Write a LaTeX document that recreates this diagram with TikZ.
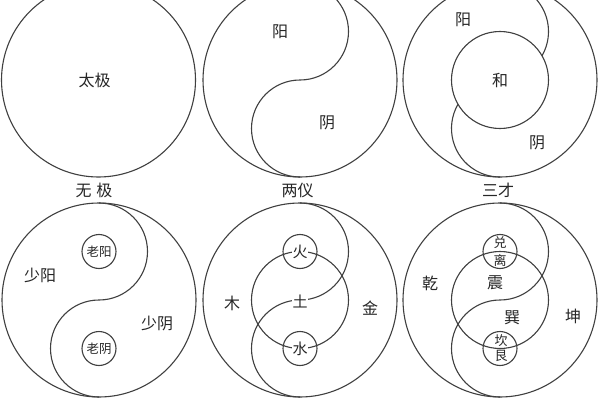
\documentclass[tikz,border=0pt]{standalone}
\usepackage{fontspec}
\setmainfont{Noto Sans CJK SC}
\definecolor{lc}{HTML}{404040}
\definecolor{tc}{HTML}{262626}
\begin{document}
\begin{tikzpicture}[x=1pt,y=1pt,
  ln/.style={draw=lc,line width=1.1pt},
  big/.style={font=\fontsize{16}{16}\selectfont,text=tc,inner sep=0.6pt},
  mid/.style={font=\fontsize{15}{15}\selectfont,text=tc,inner sep=0.6pt,fill=white},
  sml/.style={font=\fontsize{12.5}{13}\selectfont,text=tc,inner sep=0.3pt},
  tiny/.style={font=\fontsize{13}{13}\selectfont,text=tc,inner sep=0pt},
  captxt/.style={font=\fontsize{16}{16}\selectfont,text=tc,inner sep=0.5pt}]
\useasboundingbox (0,0) rectangle (600,400);
\fill[white] (0,0) rectangle (600,400);
\clip (0,0) rectangle (600,400);
% ---------- 1: taiji ----------
\begin{scope}[shift={(98.5,320)}]
  \draw[ln] (0,0) circle[radius=97];
  \node[big] (taiji) at (-4,0) {太极};
\end{scope}
% ---------- 2: liangyi ----------
\begin{scope}[shift={(300,320)}]
  \draw[ln] (0,0) circle[radius=97];
  \draw[ln] (0,97) arc[start angle=90,end angle=-90,radius=48.5]
                   arc[start angle=90,end angle=270,radius=48.5];
  \node[big] (yang2) at (-20,48) {阳};
  \node[big] (yin2) at (27,-43) {阴};
\end{scope}
% ---------- 3: sancai ----------
\begin{scope}[shift={(500,320)}]
  \draw[ln] (0,0) circle[radius=97];
  \draw[ln] (0,0) circle[radius=48.5];
  \draw[ln] (0,97) arc[start angle=90,end angle=-30,radius=48.5];
  \draw[ln] (-42.002,-24.25) arc[start angle=150,end angle=270,radius=48.5];
  \node[big] (yang3) at (-37,60) {阳};
  \node[big] (he3) at (0,0) {和};
  \node[big] (yin3) at (37,-63) {阴};
\end{scope}
% captions
\node[captxt] (wuji) at (94,210) {无\hspace{5pt}极};
\node[captxt] (liangyi) at (297.5,210) {两仪};
\node[captxt] (sancai) at (498,210) {三才};
% ---------- 4: sixiang ----------
\begin{scope}[shift={(99,100)}]
  \draw[ln] (0,0) circle[radius=97];
  \draw[ln] (0,97) arc[start angle=90,end angle=-90,radius=48.5]
                   arc[start angle=90,end angle=270,radius=48.5];
  \draw[ln] (0,48.5) circle[radius=17];
  \draw[ln] (0,-48.5) circle[radius=17];
  \node[sml] (laoyang) at (0,48.5) {老阳};
  \node[sml] (laoyin) at (0,-48.5) {老阴};
  \node[big] (shaoyang) at (-59,25) {少阳};
  \node[big] (shaoyin) at (58,-23) {少阴};
\end{scope}
% ---------- 5: wuxing ----------
\begin{scope}[shift={(300,100)}]
  \draw[ln] (0,0) circle[radius=97];
  \draw[ln] (0,0) circle[radius=48.5];
  \draw[ln] (0,97) arc[start angle=90,end angle=-90,radius=48.5]
                   arc[start angle=90,end angle=270,radius=48.5];
  \draw[ln] (0,48.5) circle[radius=17];
  \draw[ln] (0,-48.5) circle[radius=17];
  \node[mid] (huo) at (0,48.5) {火};
  \node[mid] (shui) at (0,-48.5) {水};
  \node[mid] (tu) at (0,-1) {土};
  \node[big] (mu) at (-68,-3) {木};
  \node[big] (jin) at (70,-8) {金};
\end{scope}
% ---------- 6: bagua ----------
\begin{scope}[shift={(500,100)}]
  \draw[ln] (0,0) circle[radius=97];
  \draw[ln] (0,0) circle[radius=48.5];
  \draw[ln] (0,97) arc[start angle=90,end angle=-90,radius=48.5]
                   arc[start angle=90,end angle=270,radius=48.5];
  \draw[ln] (0,48.5) circle[radius=17];
  \draw[ln] (0,-48.5) circle[radius=17];
  \node[tiny] (dui) at (0,57) {兑};
  \node[tiny] (li) at (0,39) {离};
  \node[tiny] (kan) at (1,-41) {坎};
  \node[tiny] (gen) at (1,-56) {艮};
  \node[big] (qian) at (-70,17) {乾};
  \node[big] (zhen) at (-5,17) {震};
  \node[big] (xun) at (12,-18) {巽};
  \node[big] (kun) at (73,-16) {坤};
\end{scope}
\end{tikzpicture}
\end{document}
